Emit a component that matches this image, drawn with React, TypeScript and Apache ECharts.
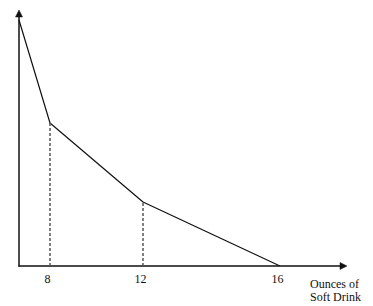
import React, { useEffect, useRef } from "react";
import * as echarts from "echarts";

// Schematic horizontal placement of each quantity as drawn (axis units)
const ounceLabels = ["0", "8", "12", "16"];
const xPosition = [0, 31, 124, 261];
// Relative height of the curve at each quantity
const heights = [246, 143, 64, 0];
const axisXMax = 324;
const axisYMax = 252;
const xAxisTitle = "Ounces of\nSoft Drink";

const W = 373;
const H = 306;
const G = { left: 19, right: 30, top: 14, bottom: 40 };

export default function App() {
  const ref = useRef<HTMLDivElement>(null);
  useEffect(() => {
    if (!ref.current) return;
    const chart = echarts.init(ref.current, null, { renderer: "svg" });
    const lineData = xPosition.map((x, i) => [x, heights[i]]);
    const labelMap: Record<number, string> = {};
    xPosition.forEach((x, i) => (labelMap[x] = ounceLabels[i]));
    const dropLines = [1, 2].map((i) => [
      { coord: [xPosition[i], 0] },
      { coord: [xPosition[i], heights[i]] },
    ]);
    const axisLine = {
      show: true,
      lineStyle: { color: "#111", width: 1.5 },
    };
    const ox = G.left;
    const oy = H - G.bottom;
    const xe = W - G.right;
    const ye = G.top;
    chart.setOption({
      animation: false,
      backgroundColor: "#ffffff",
      grid: G,
      xAxis: {
        type: "value",
        min: 0,
        max: axisXMax,
        splitLine: { show: false },
        axisTick: { show: false },
        axisLine,
        axisLabel: {
          customValues: xPosition.slice(1),
          formatter: (v: number) => labelMap[v] ?? "",
          fontFamily: "Liberation Serif",
          fontSize: 12,
          color: "#111",
          margin: 7,
          padding: [0, 5, 0, 0],
        },
      },
      yAxis: {
        type: "value",
        min: 0,
        max: axisYMax,
        splitLine: { show: false },
        axisTick: { show: false },
        axisLabel: { show: false },
        axisLine,
      },
      graphic: [
        {
          type: "polygon",
          z: 100,
          shape: {
            points: [
              [ox, ye - 4],
              [ox - 3.5, ye + 3],
              [ox + 3.5, ye + 3],
            ],
          },
          style: { fill: "#111", stroke: "#111", lineWidth: 0.5 },
        },
        {
          type: "polygon",
          z: 100,
          shape: {
            points: [
              [xe + 4, oy],
              [xe - 3, oy - 3.5],
              [xe - 3, oy + 3.5],
            ],
          },
          style: { fill: "#111", stroke: "#111", lineWidth: 0.5 },
        },
        {
          type: "text",
          left: 310,
          top: 277,
          style: {
            text: xAxisTitle,
            font: "12px 'Liberation Serif'",
            fill: "#111",
            lineHeight: 13,
          },
        },
      ],
      series: [
        {
          type: "line",
          data: lineData,
          symbol: "none",
          lineStyle: { color: "#111", width: 1.2 },
          markLine: {
            silent: true,
            symbol: ["none", "none"],
            label: { show: false },
            lineStyle: { color: "#555", width: 1.5, type: [3, 2] },
            data: dropLines,
          },
        },
      ],
    });
    return () => chart.dispose();
  }, []);
  return <div ref={ref} style={{ width: W, height: H, position: "absolute", left: 0, top: 0 }} />;
}
